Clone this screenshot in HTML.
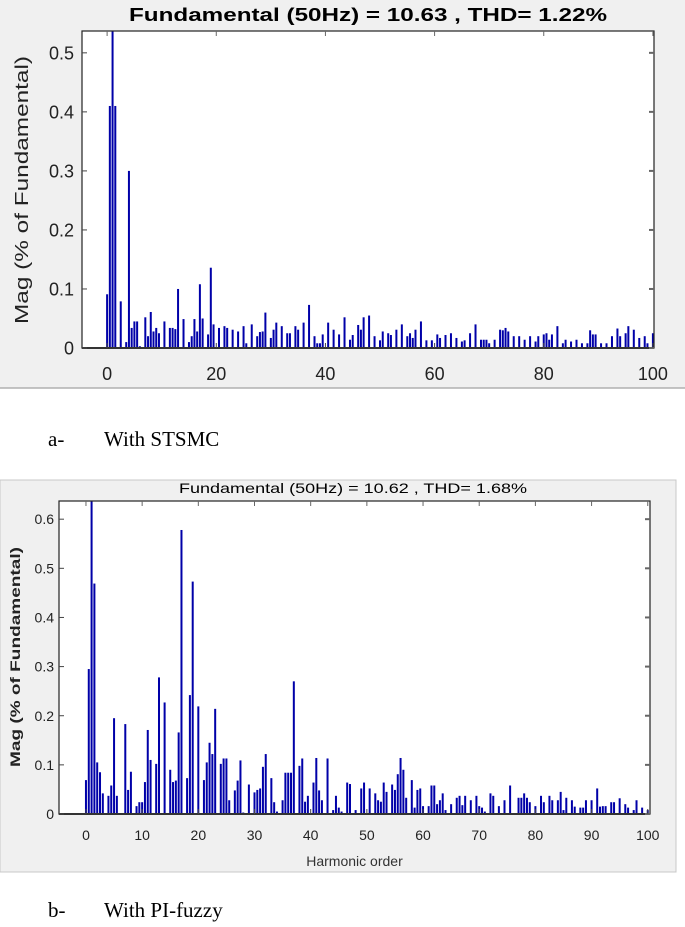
<!DOCTYPE html>
<html><head><meta charset="utf-8">
<style>
html,body{margin:0;padding:0;background:#fff;width:685px;height:927px;overflow:hidden;font-family:"Liberation Sans",sans-serif;}
svg{position:absolute;left:0;top:0;}
</style></head>
<body>
<svg id="fig" width="685" height="927" viewBox="0 0 685 927">
  <rect x="0" y="0" width="685" height="388" fill="#f0f0f0"/>
  <line x1="0" y1="388" x2="685" y2="388" stroke="#b0b0b0" stroke-width="1.5"/>
  <rect x="0" y="480" width="676" height="392" fill="#f0f0f0" stroke="#c8c8c8"/>
  <text x="48" y="446" font-family="'Liberation Serif',serif" font-size="21" fill="#000">a-<tspan x="104">With STSMC</tspan></text>
  <text x="48" y="917" font-family="'Liberation Serif',serif" font-size="21" fill="#000">b-<tspan x="104">With PI-fuzzy</tspan></text>
  <g id="chartA"></g>
  <g id="chartB"></g>
</svg>
<script>
// ---- Chart A data (STSMC) ----
const ordersA = [0,0.5,1,1.5,2.5,3.5,4,4.5,5,5.5,6,7,7.5,8,8.5,9,9.5,10.5,11.5,12,12.5,13,14,15,15.5,16,16.5,17,17.5,18.5,19,19.5,20.5,21.5,22,23,24,25,25.5,26.5,27.5,28,28.5,29,30,30.5,31,32,33,33.5,34.5,35,36,37,38,38.5,39,39.5,40.5,41.5,42.5,43.5,44.5,45,46,46.5,47,48,49,50,50.5,51.5,52,53,54,55,55.5,56,56.5,57.5,58.5,59.5,60.5,61,62,63,64,65,65.5,66.5,67.5,68.5,69,69.5,70,71,72,72.5,73,73.5,74.5,75.5,76.5,77.5,78.5,79,80,80.5,81,81.5,82.5,83.5,84,85,86,87,88,88.5,89,89.5,90.5,91.5,92.5,93.5,94,95,95.5,96.5,97.5,98.5,99,100];
const valuesA = [0.091,0.41,0.6,0.41,0.079,0.01,0.30,0.034,0.045,0.045,0.003,0.052,0.02,0.061,0.028,0.034,0.025,0.045,0.034,0.034,0.032,0.10,0.049,0.01,0.02,0.049,0.028,0.108,0.05,0.023,0.136,0.04,0.034,0.037,0.034,0.031,0.028,0.037,0.008,0.04,0.02,0.027,0.028,0.06,0.017,0.031,0.043,0.037,0.025,0.025,0.037,0.031,0.043,0.073,0.02,0.008,0.008,0.023,0.043,0.031,0.023,0.052,0.014,0.022,0.039,0.031,0.052,0.055,0.02,0.013,0.028,0.025,0.022,0.031,0.04,0.02,0.025,0.017,0.031,0.045,0.013,0.013,0.023,0.017,0.022,0.025,0.017,0.011,0.013,0.025,0.04,0.014,0.014,0.014,0.008,0.014,0.031,0.03,0.034,0.028,0.02,0.02,0.014,0.02,0.011,0.02,0.023,0.025,0.014,0.023,0.037,0.008,0.014,0.011,0.014,0.008,0.008,0.03,0.023,0.023,0.008,0.008,0.02,0.033,0.02,0.025,0.037,0.031,0.017,0.02,0.008,0.025];
const xTicksA = [0,20,40,60,80,100];
const yTicksA = [0,0.1,0.2,0.3,0.4,0.5];
const yTickLabelsA = ["0","0.1","0.2","0.3","0.4","0.5"];

// ---- Chart B data (PI-fuzzy) ----
const ordersB = [0,0.5,1,1.5,2,2.5,3,4,4.5,5,5.5,7,7.5,8,9,9.5,10,10.5,11,11.5,12.5,13,14,15,15.5,16,16.5,17,18,18.5,19,20,21,21.5,22,22.5,23,24,24.5,25,25.5,26.5,27,27.5,28,29,30,30.5,31,31.5,32,33,33.5,34,35,35.5,36,36.5,37,38,38.5,39,39.5,40.5,41,41.5,42,43,44,44.5,45,45.5,46.5,47,48,49,49.5,50.5,51.5,52,52.5,53,53.5,54.5,55,55.5,56,56.5,57,58,58.5,59,59.5,60,61,61.5,62,62.5,63,63.5,64,65,66,66.5,67,67.5,68.5,69.5,70,70.5,71,72,72.5,73.5,74.5,75.5,77,77.5,78,78.5,79,80,81,81.5,82.5,83,84,84.5,85,85.5,86.5,87,88,88.5,89,90,91,91.5,92,92.5,93.5,94,95,96,96.5,97.5,98,99,100];
const valuesB = [0.069,0.295,0.64,0.469,0.105,0.085,0.042,0.037,0.058,0.195,0.037,0.183,0.049,0.086,0.016,0.024,0.024,0.065,0.171,0.11,0.102,0.278,0.227,0.09,0.065,0.068,0.166,0.578,0.073,0.242,0.473,0.219,0.069,0.105,0.145,0.122,0.214,0.102,0.113,0.113,0.028,0.048,0.068,0.109,0.003,0.06,0.044,0.049,0.052,0.096,0.122,0.073,0.024,0.005,0.028,0.084,0.084,0.084,0.27,0.098,0.113,0.025,0.037,0.064,0.114,0.048,0.028,0.113,0.008,0.037,0.013,0.005,0.064,0.061,0.008,0.052,0.064,0.052,0.042,0.028,0.025,0.064,0.045,0.06,0.049,0.081,0.114,0.09,0.033,0.069,0.013,0.049,0.052,0.016,0.016,0.058,0.058,0.02,0.028,0.042,0.008,0.02,0.033,0.037,0.018,0.037,0.028,0.037,0.016,0.013,0.005,0.042,0.037,0.016,0.028,0.058,0.033,0.033,0.042,0.033,0.024,0.016,0.037,0.024,0.037,0.028,0.028,0.045,0.008,0.033,0.028,0.015,0.013,0.013,0.028,0.028,0.052,0.015,0.016,0.016,0.024,0.024,0.032,0.02,0.013,0.008,0.028,0.013,0.008];
const xTicksB = [0,10,20,30,40,50,60,70,80,90,100];
const yTicksB = [0,0.1,0.2,0.3,0.4,0.5,0.6];
const yTickLabelsB = ["0","0.1","0.2","0.3","0.4","0.5","0.6"];

const NS = "http://www.w3.org/2000/svg";
function mk(parent, tag, attrs, text) {
  const el = document.createElementNS(NS, tag);
  for (const k in attrs) el.setAttribute(k, attrs[k]);
  if (text !== undefined) el.textContent = text;
  parent.appendChild(el);
  return el;
}

function drawChart(g, cfg, orders, values, xTicks, yTicks, yLabels) {
  const L = cfg.left, R = cfg.right, T = cfg.top, B = cfg.bottom;
  const xs = v => L + (v - cfg.xmin) / (cfg.xmax - cfg.xmin) * (R - L);
  const ys = v => B - (v / cfg.ymax) * (B - T);
  const plot = mk(g, "rect", {x: L, y: T, width: R - L, height: B - T, fill: "#fff"});
  
  
  const clip = "clip" + cfg.id;
  const cp = mk(g, "clipPath", {id: clip});
  mk(cp, "rect", {x: L, y: T, width: R - L, height: B - T});
  const bars = mk(g, "g", {"clip-path": "url(#" + clip + ")"});
  
  
  for (let i = 0; i < orders.length; i++) {
    const x = xs(orders[i]);
    const y = ys(values[i]);
    const b = mk(bars, "rect", {x: x - 1, y: y, width: 2, height: Math.max(0, B - y), fill: "#0000a8"});
    
    
  }
  const box = mk(g, "rect", {x: L, y: T, width: R - L, height: B - T, fill: "none", stroke: "#222", "stroke-width": 1.2});
  
  
  mk(g, "line", {x1: L, y1: B, x2: R, y2: B, stroke: "#333", "stroke-width": 2});
  for (let i = 0; i < yTicks.length; i++) {
    const y = ys(yTicks[i]);
    mk(g, "line", {x1: L, y1: y, x2: L + 5, y2: y, stroke: "#444"});
    mk(g, "line", {x1: R - 5, y1: y, x2: R, y2: y, stroke: "#666", "stroke-width": 2});
    const t = mk(g, "text", {x: L - cfg.yLabelGap, y: y + cfg.tickFont * 0.36, "text-anchor": "end", "font-size": cfg.tickFont, fill: "#222"}, yLabels[i]);
    
    
  }
  for (let i = 0; i < xTicks.length; i++) {
    const x = xs(xTicks[i]);
    mk(g, "line", {x1: x, y1: B, x2: x, y2: B - 5, stroke: "#444"});
    mk(g, "line", {x1: x, y1: T, x2: x, y2: T + 5, stroke: "#666"});
    const t = mk(g, "text", {x: x, y: cfg.xLabelY, "text-anchor": "middle", "font-size": cfg.tickFont, fill: "#222"}, String(xTicks[i]));
    
    
  }
  const tt = mk(g, "text", {x: cfg.titleX, y: cfg.titleY, "text-anchor": "middle", "font-size": cfg.titleFont, "font-weight": cfg.titleWeight, fill: "#000", textLength: cfg.titleLen, lengthAdjust: "spacingAndGlyphs"}, cfg.title);
  
  
  const yt = mk(g, "text", {x: 0, y: 0, "text-anchor": "middle", "font-size": cfg.yTitleFont, "font-weight": cfg.yTitleWeight, fill: "#222", textLength: cfg.yTitleLen, lengthAdjust: "spacingAndGlyphs", transform: "translate(" + cfg.yTitleX + "," + cfg.yTitleY + ") rotate(-90)"}, "Mag (% of Fundamental)");
  
  
  if (cfg.xTitle) {
    const xt = mk(g, "text", {x: (L + R) / 2, y: cfg.xTitleY, "text-anchor": "middle", "font-size": cfg.tickFont, fill: "#333"}, cfg.xTitle);
    
    
  }
}

drawChart(document.getElementById("chartA"), {
  id: "A", left: 82, right: 654, top: 31, bottom: 348, xmin: -4.6, xmax: 100.2, ymax: 0.537,
  tickFont: 18, yLabelGap: 8, xLabelY: 380, title: "Fundamental (50Hz) = 10.63 , THD= 1.22%",
  titleX: 368, titleY: 21, titleFont: 18, titleWeight: "bold", titleLen: 478,
  yTitleX: 28, yTitleY: 190, yTitleFont: 18, yTitleWeight: "normal", yTitleLen: 268
}, ordersA, valuesA, xTicksA, yTicksA, yTickLabelsA);

drawChart(document.getElementById("chartB"), {
  id: "B", left: 59, right: 650, top: 501, bottom: 814, xmin: -4.8, xmax: 100.4, ymax: 0.637,
  tickFont: 14, yLabelGap: 5, xLabelY: 840, title: "Fundamental (50Hz) = 10.62 , THD= 1.68%",
  titleX: 353, titleY: 493, titleFont: 14, titleWeight: "normal", titleLen: 348,
  yTitleX: 20, yTitleY: 657, yTitleFont: 14, yTitleWeight: "bold", yTitleLen: 220,
  xTitle: "Harmonic order", xTitleY: 866
}, ordersB, valuesB, xTicksB, yTicksB, yTickLabelsB);
</script>
</body></html>
